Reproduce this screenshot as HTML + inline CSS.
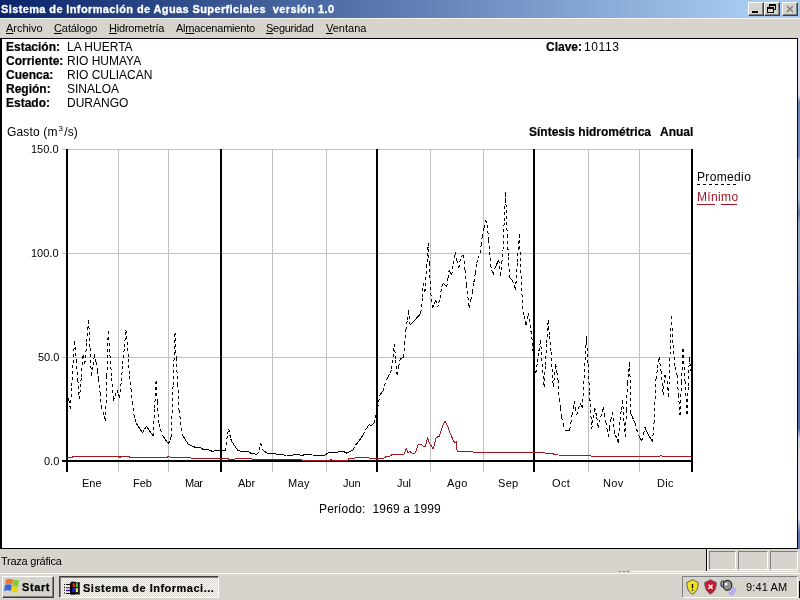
<!DOCTYPE html>
<html><head><meta charset="utf-8">
<style>
*{margin:0;padding:0;box-sizing:border-box}
html,body{width:800px;height:600px;overflow:hidden;background:#D6D4CC;font-family:"Liberation Sans",sans-serif;}
.a{position:absolute;white-space:nowrap;line-height:1;will-change:transform}
#title{position:absolute;left:0;top:0;width:800px;height:18px;background:linear-gradient(to right,#0A246A 0,#A6CAF0 745px);}
#title .t{position:absolute;left:1px;top:4px;color:#fff;font-weight:bold;font-size:11px;letter-spacing:0.38px;-webkit-text-stroke:0.3px #fff}
.cbtn{position:absolute;top:2px;width:16px;height:14px;background:#D6D4CC;border-top:1px solid #fff;border-left:1px solid #fff;border-right:1px solid #404040;border-bottom:1px solid #404040;box-shadow:inset -1px -1px 0 #808080}
#menu{position:absolute;left:0;top:18px;width:800px;height:20px;background:#D6D4CC;border-top:1px solid #F4F3EE}
#menu span{position:absolute;top:3px;font-size:11px;color:#000;will-change:transform}
#client{position:absolute;left:0;top:38px;width:798px;height:511px;background:#fff;border:2px solid #000;border-top:1px solid #000;border-bottom:1px solid #000;border-right:1px solid #000}
#bluecol{position:absolute;left:798px;top:38px;width:2px;height:511px;background:linear-gradient(to bottom,#E0E0EE 0,#DCDCEA 58px,#6A88B8 64px,#7090C0 118px,#B0C0D8 124px,#A8B8D0 160px,#6080B0 175px,#90A8C8 185px,#8CA4C4 240px,#7898C0 250px,#6080B8 300px,#4A70A8 310px,#4A70A8 390px,#C0D0E0 400px,#D8D8E8 420px,#D8D8E8 480px,#5878A8 495px,#5878A8 511px)}
.lbl{font-size:12px;font-weight:bold;color:#000;-webkit-text-stroke:0.2px #000}
.val{font-size:12px;color:#000}
.ax{font-size:11px;color:#000}
#status{position:absolute;left:0;top:549px;width:800px;height:23px;background:#D6D4CC}
#taskbar{position:absolute;left:0;top:572px;width:800px;height:28px;background:#D6D4CC}
.pan{position:absolute;top:2px;height:19px;border-top:1px solid #808080;border-left:1px solid #808080;border-right:1px solid #fff;border-bottom:1px solid #fff}
#start{position:absolute;left:2px;top:4px;width:52px;height:22px;border-top:1px solid #fff;border-left:1px solid #fff;border-right:1px solid #404040;border-bottom:1px solid #404040;box-shadow:inset -1px -1px 0 #808080}
#task{position:absolute;left:59px;top:4px;width:160px;height:22px;border-top:1px solid #404040;border-left:1px solid #404040;border-right:1px solid #fff;border-bottom:1px solid #fff;box-shadow:inset 1px 1px 0 #808080;background:repeating-conic-gradient(#D6D4CC 0 25%,#fff 0 50%) 0 0/2px 2px}
#tray{position:absolute;left:682px;top:4px;width:116px;height:22px;border-top:1px solid #808080;border-left:1px solid #808080;border-right:1px solid #fff;border-bottom:1px solid #fff}
</style></head><body>
<div id="title"><span class="a t">Sistema de Información de Aguas Superficiales&nbsp; versión 1.0</span>
<div class="cbtn" style="left:748px"><div style="position:absolute;left:3px;top:8px;width:6px;height:2px;background:#000"></div></div>
<div class="cbtn" style="left:764px"><div style="position:absolute;left:4px;top:1px;width:7px;height:6px;border:1px solid #000;border-top-width:2px"></div><div style="position:absolute;left:2px;top:4px;width:7px;height:6px;border:1px solid #000;border-top-width:2px;background:#D6D4CC"></div></div>
<div class="cbtn" style="left:782px"><svg width="14" height="12" style="position:absolute;left:0;top:0"><path d="M4 3L10 9M10 3L4 9" stroke="#808080" stroke-width="1.5"/></svg></div>
</div>
<div id="menu">
<span style="left:6px"><u>A</u>rchivo</span>
<span style="left:54px;letter-spacing:-0.1px"><u>C</u>atálogo</span>
<span style="left:109px;letter-spacing:-0.2px"><u>H</u>idrometría</span>
<span style="left:176px;letter-spacing:-0.22px">Al<u>m</u>acenamiento</span>
<span style="left:266px;letter-spacing:-0.28px"><u>S</u>eguridad</span>
<span style="left:326px"><u>V</u>entana</span>
</div>
<div id="client"></div><div id="bluecol"></div>
<div class="a lbl" style="left:6px;top:41px">Estación:</div>
<div class="a lbl" style="left:6px;top:55px">Corriente:</div>
<div class="a lbl" style="left:6px;top:69px">Cuenca:</div>
<div class="a lbl" style="left:6px;top:83px">Región:</div>
<div class="a lbl" style="left:6px;top:97px">Estado:</div>
<div class="a val" style="left:67px;top:41px">LA HUERTA</div>
<div class="a val" style="left:67px;top:55px">RIO HUMAYA</div>
<div class="a val" style="left:67px;top:69px">RIO CULIACAN</div>
<div class="a val" style="left:67px;top:83px">SINALOA</div>
<div class="a val" style="left:67px;top:97px">DURANGO</div>
<div class="a lbl" style="left:546px;top:41px">Clave:</div>
<div class="a val" style="left:584px;top:41px;letter-spacing:0.6px">10113</div>
<div class="a val" style="left:7px;top:126px;letter-spacing:0.15px">Gasto (m<span style="font-size:8px;position:relative;top:-5px;margin:0 1px 0 1px">3</span>/s)</div>
<div class="a lbl" style="left:529px;top:126px">Síntesis hidrométrica</div>
<div class="a lbl" style="left:660px;top:126px">Anual</div>
<svg style="position:absolute;left:0;top:0" width="800" height="600">
<g stroke="#C0C0C0" stroke-width="1" shape-rendering="crispEdges">
<path d="M62 149.5H691M62 253.5H691M62 357.5H691"/>
<path d="M118.5 149V472M168.5 149V472M272.5 149V472M326.5 149V472M430.5 149V472M483.5 149V472M588.5 149V472M639.5 149V472"/>
</g>
<g stroke="#000" shape-rendering="crispEdges">
<path d="M62 461H693" stroke-width="2"/>
<path d="M67 149V472M221 149V472M377 149V472M534 149V472M692 149V472" stroke-width="2"/>
</g>
<path d="M67.00 457.40 L72.50 457.40 L73.10 456.40 L118.75 456.40 L120.00 457.40 L121.25 456.40 L128.75 456.40 L129.40 457.10 L167.50 457.10 L168.50 456.40 L170.00 457.10 L190.00 457.10 L191.25 458.25 L227.50 458.25 L228.75 459.25 L235.00 459.25 L236.25 458.25 L251.25 458.25 L252.50 459.25 L301.25 459.25 L302.50 460.50 L330.00 460.50 L331.25 459.50 L332.50 460.50 L347.50 460.50 L348.75 458.60 L360.00 457.50 L366.00 457.50 L370.00 458.10 L383.75 458.10 L386.25 456.50 L390.00 456.00 L392.50 454.40 L404.40 454.00 L406.25 448.50 L408.10 453.10 L409.40 451.25 L413.75 454.00 L415.60 452.50 L418.10 444.40 L420.00 444.00 L423.75 446.25 L425.60 446.25 L427.50 437.50 L428.75 441.90 L433.10 449.00 L436.25 437.50 L439.40 436.25 L442.50 426.25 L445.00 421.50 L447.50 425.60 L450.00 433.10 L453.75 441.25 L455.00 443.10 L456.25 441.90 L457.25 451.90 L544.40 452.50 L545.60 453.40 L552.50 453.75 L557.50 455.00 L590.00 455.25 L591.25 456.25 L660.00 456.25 L661.00 455.25 L662.00 456.25 L691.00 456.25" fill="none" stroke="#A51420" stroke-width="1" shape-rendering="crispEdges"/>
<path d="M67.5 392.0L68.9 400.3 M68.9 400.3L70.3 408.6 M70.3 408.6L71.7 386.0 M71.7 386.0L73.1 363.3 M73.1 363.3L74.5 340.7 M74.5 340.7L76.1 360.3 M76.1 360.3L77.8 379.8 M77.8 379.8L79.4 399.4 M79.4 399.4L81.2 377.4 M81.2 377.4L83.1 355.4 M83.1 355.4L84.9 363.6 M84.9 363.6L86.8 341.6 M86.8 341.6L88.6 319.6 M88.6 319.6L90.0 347.6 M90.0 347.6L91.4 375.6 M91.4 375.6L93.1 364.6 M93.1 364.6L94.7 353.5 M94.7 353.5L96.0 362.0 M96.0 362.0L97.4 370.5 M97.4 370.5L98.7 379.0 M98.7 379.0L100.1 392.9 M100.1 392.9L101.4 406.7 M101.4 406.7L102.8 411.6 M102.8 411.6L104.1 416.5 M104.1 416.5L105.5 421.4 M105.5 421.4L106.8 376.4 M106.8 376.4L108.2 331.5 M108.2 331.5L109.9 354.7 M109.9 354.7L111.7 378.0 M111.7 378.0L113.4 401.2 M113.4 401.2L115.2 395.7 M115.2 395.7L117.0 390.2 M117.0 390.2L118.4 393.9 M118.4 393.9L119.8 397.6 M119.8 397.6L121.3 380.6 M121.3 380.6L122.8 363.6 M122.8 363.6L124.4 346.7 M124.4 346.7L125.9 329.7 M125.9 329.7L127.3 342.5 M127.3 342.5L128.4 359.4 M128.4 359.4L129.5 376.3 M129.5 376.3L131.0 389.1 M131.0 389.1L132.5 401.8 M132.5 401.8L134.0 414.6 M134.0 414.6L135.2 419.1 M135.2 419.1L136.3 423.6 M136.3 423.6L137.9 425.9 M137.9 425.9L139.4 428.1 M139.4 428.1L141.0 430.4 M141.0 430.4L142.6 432.6 M142.6 432.6L144.5 429.5 M144.5 429.5L146.4 426.3 M146.4 426.3L148.1 428.7 M148.1 428.7L149.8 431.1 M149.8 431.1L151.5 433.6 M151.5 433.6L153.2 436.0 M153.2 436.0L154.6 408.4 M154.6 408.4L156.1 380.8 M156.1 380.8L157.4 402.2 M157.4 402.2L158.8 423.6 M158.8 423.6L160.5 429.2 M160.5 429.2L162.2 434.9 M162.2 434.9L163.8 437.1 M163.8 437.1L165.3 439.4 M165.3 439.4L166.9 441.6 M166.9 441.6L168.5 443.9 M168.5 443.9L169.8 440.4 M169.8 440.4L171.2 437.0 M171.2 437.0L173.1 384.7 M173.1 384.7L175.0 332.4 M175.0 332.4L176.3 358.3 M176.3 358.3L177.7 384.1 M177.7 384.1L179.0 410.0 M179.0 410.0L180.7 422.4 M180.7 422.4L182.4 434.9 M182.4 434.9L183.8 437.1 M183.8 437.1L185.2 439.4 M185.2 439.4L186.6 441.6 M186.6 441.6L188.0 443.9 M188.0 443.9L189.4 444.6 M189.4 444.6L190.9 445.4 M190.9 445.4L192.3 446.1 M192.3 446.1L193.8 446.9 M193.8 446.9L195.2 447.1 M195.2 447.1L196.8 447.3 M196.8 447.3L198.2 447.6 M198.2 447.6L199.8 447.8 M199.8 447.8L201.2 448.0 M201.2 448.0L202.5 448.9 M202.5 448.9L203.8 449.8 M203.8 449.8L205.4 449.8 M205.4 449.8L207.1 449.8 M207.1 449.8L208.8 449.8 M208.8 449.8L210.6 450.6 M210.6 450.6L212.5 451.5 M212.5 451.5L214.4 450.9 M214.4 450.9L216.2 450.2 M216.2 450.2L217.7 450.4 M217.7 450.4L219.2 450.5 M219.2 450.5L220.6 450.6 M220.6 450.6L222.1 450.6 M222.1 450.6L223.5 450.6 M223.5 450.6L225.0 450.6 M225.0 450.6L226.2 445.0 M226.2 445.0L227.5 433.8 M227.5 433.8L228.8 428.8 M228.8 428.8L230.6 438.8 M230.6 438.8L232.5 442.5 M232.5 442.5L234.2 445.0 M234.2 445.0L235.8 447.5 M235.8 447.5L237.5 450.0 M237.5 450.0L238.8 450.5 M238.8 450.5L240.0 451.0 M240.0 451.0L241.7 451.2 M241.7 451.2L243.3 451.3 M243.3 451.3L245.0 451.5 M245.0 451.5L246.2 451.4 M246.2 451.4L247.5 451.2 M247.5 451.2L249.4 452.4 M249.4 452.4L251.2 453.5 M251.2 453.5L252.8 453.7 M252.8 453.7L254.4 453.9 M254.4 453.9L255.9 454.2 M255.9 454.2L257.5 454.4 M257.5 454.4L259.4 450.0 M259.4 450.0L260.6 443.1 M260.6 443.1L262.5 449.4 M262.5 449.4L264.4 451.1 M264.4 451.1L266.2 452.8 M266.2 452.8L267.9 453.1 M267.9 453.1L269.6 453.4 M269.6 453.4L271.2 453.8 M271.2 453.8L272.9 453.8 M272.9 453.8L274.5 453.9 M274.5 453.9L276.1 454.0 M276.1 454.0L277.7 454.1 M277.7 454.1L279.3 454.2 M279.3 454.2L280.9 454.3 M280.9 454.3L282.5 454.4 M282.5 454.4L283.8 455.0 M283.8 455.0L285.0 455.6 M285.0 455.6L286.5 455.5 M286.5 455.5L288.0 455.5 M288.0 455.5L289.5 455.4 M289.5 455.4L291.0 455.3 M291.0 455.3L292.5 455.2 M292.5 455.2L294.4 454.6 M294.4 454.6L296.2 454.0 M296.2 454.0L297.9 454.4 M297.9 454.4L299.6 454.8 M299.6 454.8L301.2 455.2 M301.2 455.2L302.8 455.1 M302.8 455.1L304.2 454.9 M304.2 454.9L305.8 454.7 M305.8 454.7L307.2 454.6 M307.2 454.6L308.8 454.4 M308.8 454.4L310.6 454.8 M310.6 454.8L312.5 455.2 M312.5 455.2L314.1 455.2 M314.1 455.2L315.6 455.2 M315.6 455.2L317.2 455.2 M317.2 455.2L318.8 455.2 M318.8 455.2L320.3 455.2 M320.3 455.2L321.9 455.2 M321.9 455.2L323.4 455.2 M323.4 455.2L325.0 455.2 M325.0 455.2L326.2 454.2 M326.2 454.2L327.5 453.1 M327.5 453.1L329.4 452.7 M329.4 452.7L331.2 452.2 M331.2 452.2L333.1 452.7 M333.1 452.7L335.0 453.1 M335.0 453.1L336.7 452.5 M336.7 452.5L338.3 451.9 M338.3 451.9L340.0 451.2 M340.0 451.2L341.9 451.4 M341.9 451.4L343.8 451.5 M343.8 451.5L345.0 452.3 M345.0 452.3L346.2 453.1 M346.2 453.1L348.1 452.3 M348.1 452.3L350.0 451.5 M350.0 451.5L351.6 450.8 M351.6 450.8L353.1 450.0 M353.1 450.0L355.0 445.0 M355.0 445.0L356.9 443.8 M356.9 443.8L358.4 441.6 M358.4 441.6L360.0 439.4 M360.0 439.4L361.6 437.2 M361.6 437.2L363.1 435.0 M363.1 435.0L365.0 430.0 M365.0 430.0L366.2 428.8 M366.2 428.8L367.5 427.5 M367.5 427.5L368.8 423.8 M368.8 423.8L370.0 425.0 M370.0 425.0L371.2 426.2 M371.2 426.2L372.8 424.4 M372.8 424.4L374.4 422.5 M374.4 422.5L375.4 418.0 M375.4 418.0L376.5 413.1 M376.5 413.1L377.6 408.3 M377.6 408.3L378.7 401.8 M378.7 401.8L379.8 395.3 M379.8 395.3L381.4 393.1 M381.4 393.1L383.0 391.0 M383.0 391.0L384.6 385.6 M384.6 385.6L386.2 380.2 M386.2 380.2L388.1 376.6 M388.1 376.6L389.9 372.9 M389.9 372.9L391.7 369.3 M391.7 369.3L393.0 356.9 M393.0 356.9L394.3 344.4 M394.3 344.4L395.7 359.6 M395.7 359.6L397.1 374.8 M397.1 374.8L398.7 366.6 M398.7 366.6L400.3 358.5 M400.3 358.5L402.0 357.9 M402.0 357.9L403.6 357.4 M403.6 357.4L404.7 343.9 M404.7 343.9L405.8 330.3 M405.8 330.3L407.2 320.4 M407.2 320.4L408.6 310.4 M408.6 310.4L410.1 324.9 M410.1 324.9L411.7 323.3 M411.7 323.3L413.3 321.7 M413.3 321.7L415.0 320.0 M415.0 320.0L416.4 318.3 M416.4 318.3L417.9 316.6 M417.9 316.6L419.4 315.0 M419.4 315.0L420.8 313.3 M420.8 313.3L422.5 296.7 M422.5 296.7L423.3 283.3 M423.3 283.3L425.0 291.7 M425.0 291.7L426.6 267.5 M426.6 267.5L428.3 243.3 M428.3 243.3L429.2 263.3 M429.2 263.3L430.8 293.3 M430.8 293.3L432.5 308.3 M432.5 308.3L434.1 304.1 M434.1 304.1L435.8 300.0 M435.8 300.0L437.5 307.5 M437.5 307.5L438.8 302.9 M438.8 302.9L440.0 298.3 M440.0 298.3L441.7 286.7 M441.7 286.7L443.3 283.3 M443.3 283.3L445.0 285.0 M445.0 285.0L446.7 286.7 M446.7 286.7L447.9 278.4 M447.9 278.4L449.2 270.0 M449.2 270.0L450.4 272.5 M450.4 272.5L451.7 275.0 M451.7 275.0L453.4 263.8 M453.4 263.8L455.0 252.5 M455.0 252.5L456.9 260.4 M456.9 260.4L458.7 268.3 M458.7 268.3L460.8 256.7 M460.8 256.7L462.1 255.8 M462.1 255.8L463.3 255.0 M463.3 255.0L465.0 270.0 M465.0 270.0L466.7 285.0 M466.7 285.0L467.9 296.6 M467.9 296.6L469.2 308.3 M469.2 308.3L470.9 300.0 M470.9 300.0L472.5 291.7 M472.5 291.7L473.9 282.2 M473.9 282.2L475.3 272.8 M475.3 272.8L476.7 263.3 M476.7 263.3L478.4 258.3 M478.4 258.3L480.0 253.3 M480.0 253.3L481.1 245.0 M481.1 245.0L482.2 236.7 M482.2 236.7L483.9 228.3 M483.9 228.3L485.5 220.0 M485.5 220.0L487.2 225.0 M487.2 225.0L488.8 240.0 M488.8 240.0L490.5 265.0 M490.5 265.0L491.8 270.0 M491.8 270.0L493.0 275.0 M493.0 275.0L494.7 268.3 M494.7 268.3L496.1 265.5 M496.1 265.5L497.4 262.8 M497.4 262.8L498.8 260.0 M498.8 260.0L500.5 275.8 M500.5 275.8L501.8 262.9 M501.8 262.9L503.0 250.0 M503.0 250.0L504.2 221.2 M504.2 221.2L505.5 192.5 M505.5 192.5L507.2 235.0 M507.2 235.0L508.4 256.6 M508.4 256.6L509.7 278.3 M509.7 278.3L511.0 279.1 M511.0 279.1L512.2 280.0 M512.2 280.0L513.9 285.0 M513.9 285.0L515.5 290.0 M515.5 290.0L517.4 262.1 M517.4 262.1L519.3 234.2 M519.3 234.2L520.9 270.2 M520.9 270.2L522.5 306.3 M522.5 306.3L524.2 315.6 M524.2 315.6L526.0 325.0 M526.0 325.0L527.1 319.1 M527.1 319.1L528.3 313.3 M528.3 313.3L530.0 325.0 M530.0 325.0L531.8 336.7 M531.8 336.7L533.5 356.7 M533.5 356.7L534.6 364.9 M534.6 364.9L535.8 373.0 M535.8 373.0L537.4 362.1 M537.4 362.1L538.9 351.2 M538.9 351.2L540.5 340.3 M540.5 340.3L542.2 363.6 M542.2 363.6L544.0 387.0 M544.0 387.0L545.4 364.8 M545.4 364.8L546.8 342.7 M546.8 342.7L548.2 320.5 M548.2 320.5L549.6 336.2 M549.6 336.2L551.0 352.0 M551.0 352.0L552.1 369.5 M552.1 369.5L553.3 387.0 M553.3 387.0L554.5 375.4 M554.5 375.4L555.7 363.7 M555.7 363.7L556.9 371.9 M556.9 371.9L558.0 380.0 M558.0 380.0L559.2 398.7 M559.2 398.7L560.4 408.0 M560.4 408.0L561.5 417.3 M561.5 417.3L563.2 423.8 M563.2 423.8L565.0 430.2 M565.0 430.2L566.6 430.2 M566.6 430.2L568.1 430.2 M568.1 430.2L569.7 430.2 M569.7 430.2L570.9 422.6 M570.9 422.6L572.0 415.0 M572.0 415.0L573.1 408.0 M573.1 408.0L574.3 401.0 M574.3 401.0L575.5 408.0 M575.5 408.0L576.7 415.0 M576.7 415.0L578.5 409.1 M578.5 409.1L580.2 403.3 M580.2 403.3L581.4 405.6 M581.4 405.6L582.5 408.0 M582.5 408.0L583.8 383.9 M583.8 383.9L585.2 359.8 M585.2 359.8L586.5 335.7 M586.5 335.7L588.0 363.7 M588.0 363.7L589.5 391.7 M589.5 391.7L590.6 410.4 M590.6 410.4L591.8 429.0 M591.8 429.0L593.2 418.2 M593.2 418.2L594.7 407.5 M594.7 407.5L596.7 416.7 M596.7 416.7L598.3 428.3 M598.3 428.3L599.5 422.5 M599.5 422.5L600.8 416.7 M600.8 416.7L602.0 411.7 M602.0 411.7L603.3 406.7 M603.3 406.7L604.5 414.2 M604.5 414.2L605.8 421.7 M605.8 421.7L607.0 429.2 M607.0 429.2L608.3 436.7 M608.3 436.7L609.5 428.4 M609.5 428.4L610.8 420.0 M610.8 420.0L612.5 411.7 M612.5 411.7L614.2 431.7 M614.2 431.7L615.6 435.3 M615.6 435.3L616.9 438.9 M616.9 438.9L618.3 442.5 M618.3 442.5L620.0 420.0 M620.0 420.0L621.2 410.0 M621.2 410.0L622.5 400.0 M622.5 400.0L624.2 423.3 M624.2 423.3L625.3 436.7 M625.3 436.7L626.4 410.0 M626.4 410.0L627.5 383.3 M627.5 383.3L628.6 372.5 M628.6 372.5L629.7 361.7 M629.7 361.7L630.8 413.3 M630.8 413.3L632.2 416.6 M632.2 416.6L633.6 420.0 M633.6 420.0L635.0 423.3 M635.0 423.3L636.6 429.1 M636.6 429.1L638.3 435.0 M638.3 435.0L640.0 437.9 M640.0 437.9L641.7 440.8 M641.7 440.8L643.4 434.1 M643.4 434.1L645.0 427.5 M645.0 427.5L646.2 430.4 M646.2 430.4L647.5 433.3 M647.5 433.3L649.2 436.1 M649.2 436.1L650.8 438.9 M650.8 438.9L652.5 441.7 M652.5 441.7L654.0 423.0 M654.0 423.0L656.0 379.0 M656.0 379.0L657.5 368.0 M657.5 368.0L659.0 357.0 M659.0 357.0L661.0 371.0 M661.0 371.0L663.0 395.0 M663.0 395.0L665.0 375.0 M665.0 375.0L667.0 381.0 M667.0 381.0L668.6 397.0 M668.6 397.0L670.0 355.0 M670.0 355.0L671.4 316.0 M671.4 316.0L673.0 345.0 M673.0 345.0L675.0 367.0 M675.0 367.0L677.0 375.0 M677.0 375.0L678.5 395.0 M678.5 395.0L680.0 415.0 M680.0 415.0L681.5 382.0 M681.5 382.0L683.0 349.0 M683.0 349.0L685.0 381.0 M685.0 381.0L687.0 414.0 M687.0 414.0L688.2 385.5 M688.2 385.5L689.4 357.0 M689.4 357.0L690.6 371.0" fill="none" stroke="#000" stroke-width="1" stroke-dasharray="3 3" shape-rendering="crispEdges"/>
<path d="M697 184.5H736" stroke="#000" stroke-dasharray="3 3" shape-rendering="crispEdges"/>
<path d="M697 204.5H715M721 204.5H737" stroke="#A51420" stroke-width="1" shape-rendering="crispEdges"/>
</svg>
<div class="a ax" style="left:31px;top:248px">100.0</div>
<div class="a ax" style="left:31px;top:144px">150.0</div>
<div class="a ax" style="left:38px;top:352px">50.0</div>
<div class="a ax" style="left:44px;top:456px">0.0</div>
<div class="a val" style="left:697px;top:171px;letter-spacing:0.35px">Promedio</div>
<div class="a val" style="left:697px;top:191px;letter-spacing:0.35px;color:#A51420">Mínimo</div>
<div class="a ax" style="left:82px;top:478px">Ene</div>
<div class="a ax" style="left:133px;top:478px">Feb</div>
<div class="a ax" style="left:185px;top:478px;letter-spacing:-0.5px">Mar</div>
<div class="a ax" style="left:238px;top:478px">Abr</div>
<div class="a ax" style="left:288px;top:478px;letter-spacing:0.3px">May</div>
<div class="a ax" style="left:343px;top:478px">Jun</div>
<div class="a ax" style="left:397px;top:478px">Jul</div>
<div class="a ax" style="left:447px;top:478px;letter-spacing:0.4px">Ago</div>
<div class="a ax" style="left:498px;top:478px;letter-spacing:0.3px">Sep</div>
<div class="a ax" style="left:552px;top:478px;letter-spacing:0.4px">Oct</div>
<div class="a ax" style="left:603px;top:478px;letter-spacing:0.3px">Nov</div>
<div class="a ax" style="left:657px;top:478px;letter-spacing:0.3px">Dic</div>
<div class="a val" style="left:319px;top:503px;letter-spacing:0.15px">Período:&nbsp; 1969 a 1999</div>
<div id="status"><span class="a" style="left:1px;top:7px;font-size:11px;letter-spacing:-0.25px">Traza gráfica</span>
<div style="position:absolute;left:706px;top:0;width:1px;height:22px;background:#000"></div>
<div style="position:absolute;left:707px;top:0;width:1px;height:22px;background:#fff"></div><div style="position:absolute;left:707px;top:20px;width:91px;height:1px;background:#fff"></div><div style="position:absolute;left:631px;top:22px;width:167px;height:1px;background:#fff"></div><div style="position:absolute;left:619px;top:22px;width:2px;height:1px;background:#808080"></div><div style="position:absolute;left:623px;top:22px;width:2px;height:1px;background:#808080"></div><div style="position:absolute;left:627px;top:22px;width:2px;height:1px;background:#808080"></div>
<div class="pan" style="left:709px;width:27px"></div>
<div class="pan" style="left:738px;width:30px"></div>
<div class="pan" style="left:770px;width:28px"></div>
</div>
<div id="taskbar">
<div style="position:absolute;left:0;top:1px;width:800px;height:1px;background:#fff"></div>
<div style="position:absolute;left:799px;top:9px;width:1px;height:17px;background:#000"></div>
<div id="start"><svg width="16" height="16" style="position:absolute;left:1px;top:1px">
<path d="M1.8 1.4Q5 0 9 1.2L8.3 6.3Q4.6 5 1 6.3Z" fill="#EE7A2A"/>
<path d="M9.4 1.4Q12 2.6 15 2L14.3 8.6Q11.2 9.4 8.6 7.6Z" fill="#86CC30"/>
<path d="M1 6.9Q4.2 5.6 7.9 7L7.1 12.7Q3.6 11.5 0 12.9Z" fill="#3A64D8"/>
<path d="M8.3 8Q11.2 9.6 14.1 8.8L13.3 14.3Q10.2 15.2 7.2 13.5Z" fill="#F2D40A"/>
</svg><span class="a" style="left:19px;top:5px;font-size:11px;font-weight:bold;letter-spacing:0.6px;-webkit-text-stroke:0.25px #000">Start</span></div>
<div id="task"><svg width="17" height="15" style="position:absolute;left:4px;top:4px">
<path d="M0.5 3V13.5" stroke="#000" stroke-width="1" stroke-dasharray="1.2 1.6"/>
<path d="M2 3.5H6.5M2 12.5H6.5" stroke="#000" stroke-width="1"/>
<path d="M2 6.5H6.5" stroke="#B03040" stroke-width="1"/><path d="M2 7.5H6.5" stroke="#E0A0B0" stroke-width="1"/>
<path d="M2 9.5H6.5" stroke="#2020C0" stroke-width="1.4"/>
<path d="M6 2Q8.5 -0.3 11 1Q13 1.8 15.7 1V13.7Q13.5 12.8 11 13.6Q8.5 14.3 6 13.2Z" fill="#000"/>
<rect x="8.5" y="2.2" width="2.5" height="4" fill="#E02020"/><rect x="11.7" y="2.2" width="2.3" height="4" fill="#20D040"/>
<rect x="8" y="7.2" width="3" height="4" fill="#2020C0"/><rect x="11.7" y="7.2" width="2.3" height="4" fill="#F0F040"/>
</svg><span class="a" style="left:23px;top:6px;font-size:11px;font-weight:bold;letter-spacing:0.5px;-webkit-text-stroke:0.2px #000">Sistema de Informaci...</span></div>
<div id="tray">
<svg width="60" height="20" style="position:absolute;left:3px;top:2px">
<path d="M0.8 3.5Q4 2 6.5 0.7Q9 2 12.2 3.5Q12.5 12 6.5 15.3Q0.5 12 0.8 3.5Z" fill="#F0E020" stroke="#606048" stroke-width="1"/>
<path d="M6.5 5V9.3M6.5 10.6V11.8" stroke="#000" stroke-width="1.3"/>
<path d="M18.6 3.5Q22 2 24.6 0.7Q27 2 30.4 3.5Q30.6 12 24.6 15.3Q18.6 12 18.6 3.5Z" fill="#C81830" stroke="#707070" stroke-width="1"/>
<path d="M22.6 5.8L26.6 9.8M26.6 5.8L22.6 9.8" stroke="#fff" stroke-width="1.6"/>
<ellipse cx="36.8" cy="5" rx="2" ry="3.2" fill="#B8B8C8" stroke="#202020" stroke-width="1"/>
<ellipse cx="41.5" cy="6.3" rx="4.3" ry="5" fill="#909090" stroke="#282828" stroke-width="1.2"/>
<circle cx="40" cy="5" r="1.6" fill="#F0F0F0"/>
<path d="M47.2 8Q47.2 13 43 14.5M49.2 8.5Q49.2 14.8 44 16" stroke="#A8A0F0" stroke-width="1.4" fill="none"/>
</svg>
<span class="a" style="left:63px;top:5px;font-size:11px;letter-spacing:0.15px">9:41 AM</span>
</div>
</div>
</body></html>
